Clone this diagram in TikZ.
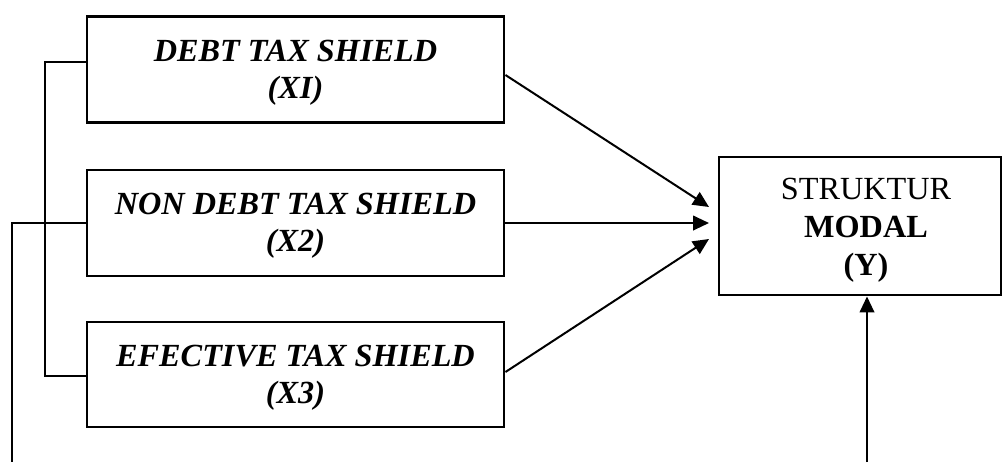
\documentclass[tikz,border=0pt]{standalone}
\usepackage{fontspec}
\setmainfont{Liberation Serif}
\usetikzlibrary{arrows.meta}

\begin{document}
\begin{tikzpicture}[x=0.75pt,y=-0.75pt,
  varbox/.style={draw,line width=2.2pt,minimum width=417*0.75pt,minimum height=106*0.75pt,inner sep=0pt},
  vartext/.style={align=center,font=\fontsize{24.2}{28}\selectfont\bfseries\itshape,inner sep=0pt,yshift=-3*0.75pt},
  ybox/.style={draw,line width=2.2pt,minimum width=282*0.75pt,minimum height=138*0.75pt,inner sep=0pt},
  ytext/.style={align=center,font=\fontsize{24.2}{28.5}\selectfont,inner sep=0pt,xshift=6*0.75pt,yshift=-4*0.75pt},
  arr/.style={line width=1.5pt,-{Triangle[length=12pt,width=11pt]}},
  link/.style={line width=1pt}]
\useasboundingbox (0,0) rectangle (1003,462);
%%Variables
\node[varbox,label={[vartext]center:DEBT TAX SHIELD\\(XI)}] (x1) at (295.5,69.5) {};
\node[varbox,label={[vartext]center:NON DEBT TAX SHIELD\\(X2)}] (x2) at (295.5,223) {};
\node[varbox,minimum height=105*0.75pt,label={[vartext]center:EFECTIVE TAX SHIELD\\(X3)}] (x3) at (295.5,374.5) {};
\node[ybox,label={[ytext]center:STRUKTUR\\\textbf{MODAL}\\\textbf{(Y)}}] (y) at (860,226) {};

%%Arrows
\coordinate (t1) at (709,207);
\coordinate (t2) at (709,223);
\coordinate (t3) at (709,239);
\coordinate (yfoot) at (867,462);
\draw[arr] ([yshift=-5.5*0.75pt]x1.east) -- (t1);
\draw[arr] (x2.east) -- (t2);
\draw[arr] ([yshift=2.5*0.75pt]x3.east) -- (t3);
\draw[arr] (yfoot) -- (yfoot |- y.south);

%%Bracket
\coordinate (c1) at (45,62);
\coordinate (c3) at (45,376);
\coordinate (lfoot) at (12,462);
\draw[link] (c1 -| x1.west) -- (c1) -- (c3) -- (c3 -| x3.west);
\draw[link] (x2.west) -- (lfoot |- x2.west) -- (lfoot);
\end{tikzpicture}
\end{document}
